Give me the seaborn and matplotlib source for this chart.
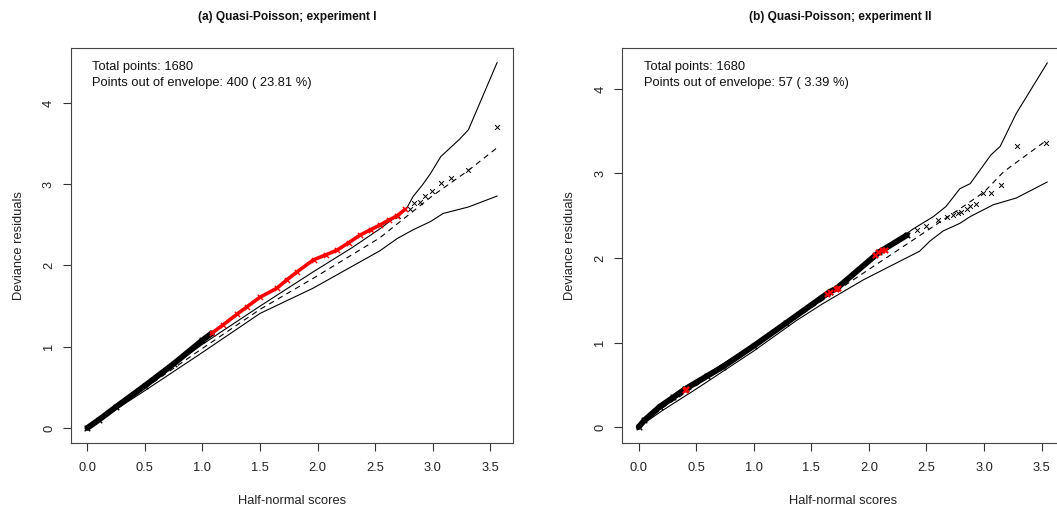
"""Half-normal plots with simulated envelopes for two quasi-Poisson fits."""

import matplotlib.pyplot as plt
import pandas as pd
import seaborn as sns

# ---- panel (a): experiment I ----
A_UPPER_X = [0.0, 0.5, 1.0, 1.5, 1.96, 2.3, 2.54, 2.70, 2.78, 2.83, 2.91, 2.98, 3.07, 3.23, 3.31, 3.56]
A_UPPER_Y = [0.0, 0.52, 1.03, 1.50, 1.92, 2.22, 2.45, 2.62, 2.72, 2.85, 2.99, 3.13, 3.34, 3.55, 3.67, 4.50]
A_MEAN_X = [0.0, 0.5, 1.0, 1.5, 1.96, 2.54, 3.0, 3.31, 3.56]
A_MEAN_Y = [0.0, 0.49, 0.98, 1.46, 1.84, 2.34, 2.86, 3.17, 3.45]
A_LOWER_X = [0.0, 0.5, 1.0, 1.5, 1.96, 2.54, 2.69, 2.83, 2.98, 3.09, 3.31, 3.56]
A_LOWER_Y = [0.0, 0.46, 0.93, 1.41, 1.72, 2.18, 2.33, 2.44, 2.54, 2.64, 2.72, 2.855]

A_IN_X = [0.0, 0.1, 0.25, 0.5, 0.75, 1.0, 1.08]
A_IN_Y = [0.0, 0.1, 0.26, 0.52, 0.79, 1.08, 1.165]
A_OUT_X = [1.08, 1.18, 1.30, 1.385, 1.5, 1.646, 1.73, 1.82, 1.965, 2.07, 2.17,
           2.27, 2.37, 2.46, 2.544, 2.62, 2.69, 2.76]
A_OUT_Y = [1.165, 1.27, 1.40, 1.49, 1.61, 1.72, 1.82, 1.92, 2.07, 2.13, 2.19,
           2.28, 2.375, 2.44, 2.50, 2.56, 2.61, 2.69]
A_TAIL_X = [2.70, 2.805, 2.84, 2.886, 2.935, 2.99, 3.07, 3.16, 3.31, 3.56]
A_TAIL_Y = [2.61, 2.70, 2.77, 2.785, 2.85, 2.92, 3.02, 3.08, 3.175, 3.70]

# ---- panel (b): experiment II ----
B_UPPER_X = [0.0, 0.2, 0.4, 0.7, 1.0, 1.3, 1.66, 1.95, 2.09, 2.38, 2.56, 2.67, 2.79, 2.88, 3.06, 3.14, 3.28, 3.55]
B_UPPER_Y = [0.0, 0.25, 0.45, 0.72, 0.98, 1.25, 1.57, 1.90, 2.05, 2.34, 2.49, 2.61, 2.82, 2.88, 3.22, 3.32, 3.71, 4.31]
B_MEAN_X = [0.0, 0.2, 0.5, 1.0, 1.5, 1.95, 2.38, 2.82, 3.0, 3.17, 3.55]
B_MEAN_Y = [0.0, 0.22, 0.49, 0.95, 1.41, 1.82, 2.21, 2.61, 2.78, 3.02, 3.40]
B_LOWER_X = [0.0, 0.2, 0.5, 1.0, 1.37, 1.60, 1.95, 2.18, 2.44, 2.53, 2.645, 2.79, 2.88, 3.08, 3.28, 3.55]
B_LOWER_Y = [0.0, 0.19, 0.45, 0.90, 1.26, 1.46, 1.74, 1.90, 2.08, 2.20, 2.32, 2.41, 2.49, 2.63, 2.71, 2.90]

B_IN_X = [0.0, 0.05, 0.183, 0.3, 0.40, 0.59, 0.733, 1.0, 1.28, 1.66, 1.72, 2.09, 2.33]
B_IN_Y = [0.0, 0.08, 0.24, 0.35, 0.446, 0.60, 0.714, 0.96, 1.23, 1.60, 1.64, 2.07, 2.27]
B_OUT_X = [0.40, 0.41, 1.64, 1.66, 1.71, 1.73, 2.05, 2.08, 2.11, 2.14]
B_OUT_Y = [0.44, 0.45, 1.58, 1.60, 1.63, 1.65, 2.04, 2.07, 2.09, 2.10]
B_TAIL_X = [2.33, 2.42, 2.5, 2.6, 2.68, 2.73, 2.77, 2.80, 2.85, 2.88, 2.93, 2.99, 3.06, 3.15, 3.29, 3.54]
B_TAIL_Y = [2.27, 2.33, 2.38, 2.45, 2.49, 2.51, 2.53, 2.55, 2.58, 2.61, 2.64, 2.77, 2.77, 2.86, 3.32, 3.36]

TITLES = ["(a) Quasi-Poisson; experiment I", "(b) Quasi-Poisson; experiment II"]
OUT_COUNTS = ["400 ( 23.81 %)", "57 ( 3.39 %)"]
TOTAL_POINTS = 1680

FIG_W, FIG_H = 1057, 508


def frame(xs, ys):
    return pd.DataFrame({"x": xs, "y": ys})


def draw_panel(ax, env, inside, outside, tail, ylim, out_text):
    upper, mean, lower = env
    for line in (upper, lower):
        sns.lineplot(data=frame(*line), x="x", y="y", ax=ax, color="black",
                     linewidth=0.8, estimator=None, sort=False)
    sns.lineplot(data=frame(*mean), x="x", y="y", ax=ax, color="black",
                 linewidth=0.8, dashes=(5, 4), estimator=None, sort=False)

    # dense run of observed residuals (a thick band of markers)
    sns.lineplot(data=frame(*inside), x="x", y="y", ax=ax, color="black",
                 linewidth=4.2, estimator=None, sort=False)
    sns.scatterplot(data=frame(*inside), x="x", y="y", ax=ax, color="black",
                    marker="x", s=16, linewidth=1.0)
    red_x, red_y, kind = outside
    if kind == "band":
        sns.lineplot(data=frame(red_x, red_y), x="x", y="y", ax=ax,
                     color="red", linewidth=2.6, estimator=None, sort=False)
        sns.scatterplot(data=frame(red_x, red_y), x="x", y="y", ax=ax,
                        color="red", marker="x", s=14, linewidth=1.0, zorder=5)
    else:
        sns.scatterplot(data=frame(red_x, red_y), x="x", y="y", ax=ax,
                        color="red", marker="x", s=14, linewidth=1.5, zorder=5)
    sns.scatterplot(data=frame(*tail), x="x", y="y", ax=ax, color="black",
                    marker="x", s=12, linewidth=0.7)

    ax.set_xlim(-0.142, 3.70)
    ax.set_ylim(*ylim)
    ax.set_xticks([0.0, 0.5, 1.0, 1.5, 2.0, 2.5, 3.0, 3.5])
    ax.set_xticklabels(["0.0", "0.5", "1.0", "1.5", "2.0", "2.5", "3.0", "3.5"])
    ax.set_yticks([0, 1, 2, 3, 4])
    ax.set_yticklabels(["0", "1", "2", "3", "4"], rotation=90, va="center")
    ax.tick_params(axis="both", direction="out", length=5.5, width=0.8,
                   bottom=True, left=True, color="#333333", labelsize=9.3,
                   labelcolor="#222222")
    ax.tick_params(axis="x", pad=8)
    ax.tick_params(axis="y", pad=6)
    for spine in ax.spines.values():
        spine.set_visible(True)
        spine.set_color("#444444")
        spine.set_linewidth(0.8)
    ax.set_xlabel("Half-normal scores", fontsize=9.3, color="#222222", labelpad=15)
    ax.set_ylabel("Deviance residuals", fontsize=9.3, color="#222222", labelpad=13)
    ax.text(0.048, 0.952, f"Total points: {TOTAL_POINTS}", transform=ax.transAxes,
            fontsize=9.3, va="center", ha="left", color="#111111")
    ax.text(0.048, 0.911, f"Points out of envelope: {out_text}", transform=ax.transAxes,
            fontsize=9.3, va="center", ha="left", color="#111111")


def main():
    sns.set_style("white")
    plt.rcParams["font.family"] = ["Liberation Sans", "DejaVu Sans"]

    fig = plt.figure(figsize=(FIG_W / 100, FIG_H / 100), dpi=100)
    bottom = (FIG_H - 443) / FIG_H
    height = 395 / FIG_H
    width = 442.3 / FIG_W
    ax_a = fig.add_axes([71 / FIG_W, bottom, width, height])
    ax_b = fig.add_axes([622.3 / FIG_W, bottom, width, height])

    draw_panel(
        ax_a,
        ((A_UPPER_X, A_UPPER_Y), (A_MEAN_X, A_MEAN_Y), (A_LOWER_X, A_LOWER_Y)),
        (A_IN_X, A_IN_Y),
        (A_OUT_X, A_OUT_Y, "band"),
        (A_TAIL_X, A_TAIL_Y),
        (-0.185, 4.677),
        OUT_COUNTS[0],
    )
    draw_panel(
        ax_b,
        ((B_UPPER_X, B_UPPER_Y), (B_MEAN_X, B_MEAN_Y), (B_LOWER_X, B_LOWER_Y)),
        (B_IN_X, B_IN_Y),
        (B_OUT_X, B_OUT_Y, "spots"),
        (B_TAIL_X, B_TAIL_Y),
        (-0.189, 4.485),
        OUT_COUNTS[1],
    )

    fig.text(287 / FIG_W, 1 - 17 / FIG_H, TITLES[0], ha="center", va="center",
             fontsize=8.6, fontweight="bold", color="#111111")
    fig.text(840 / FIG_W, 1 - 17 / FIG_H, TITLES[1], ha="center", va="center",
             fontsize=8.6, fontweight="bold", color="#111111")

    fig.savefig("out.png", dpi=100)
    plt.close(fig)


if __name__ == "__main__":
    main()
